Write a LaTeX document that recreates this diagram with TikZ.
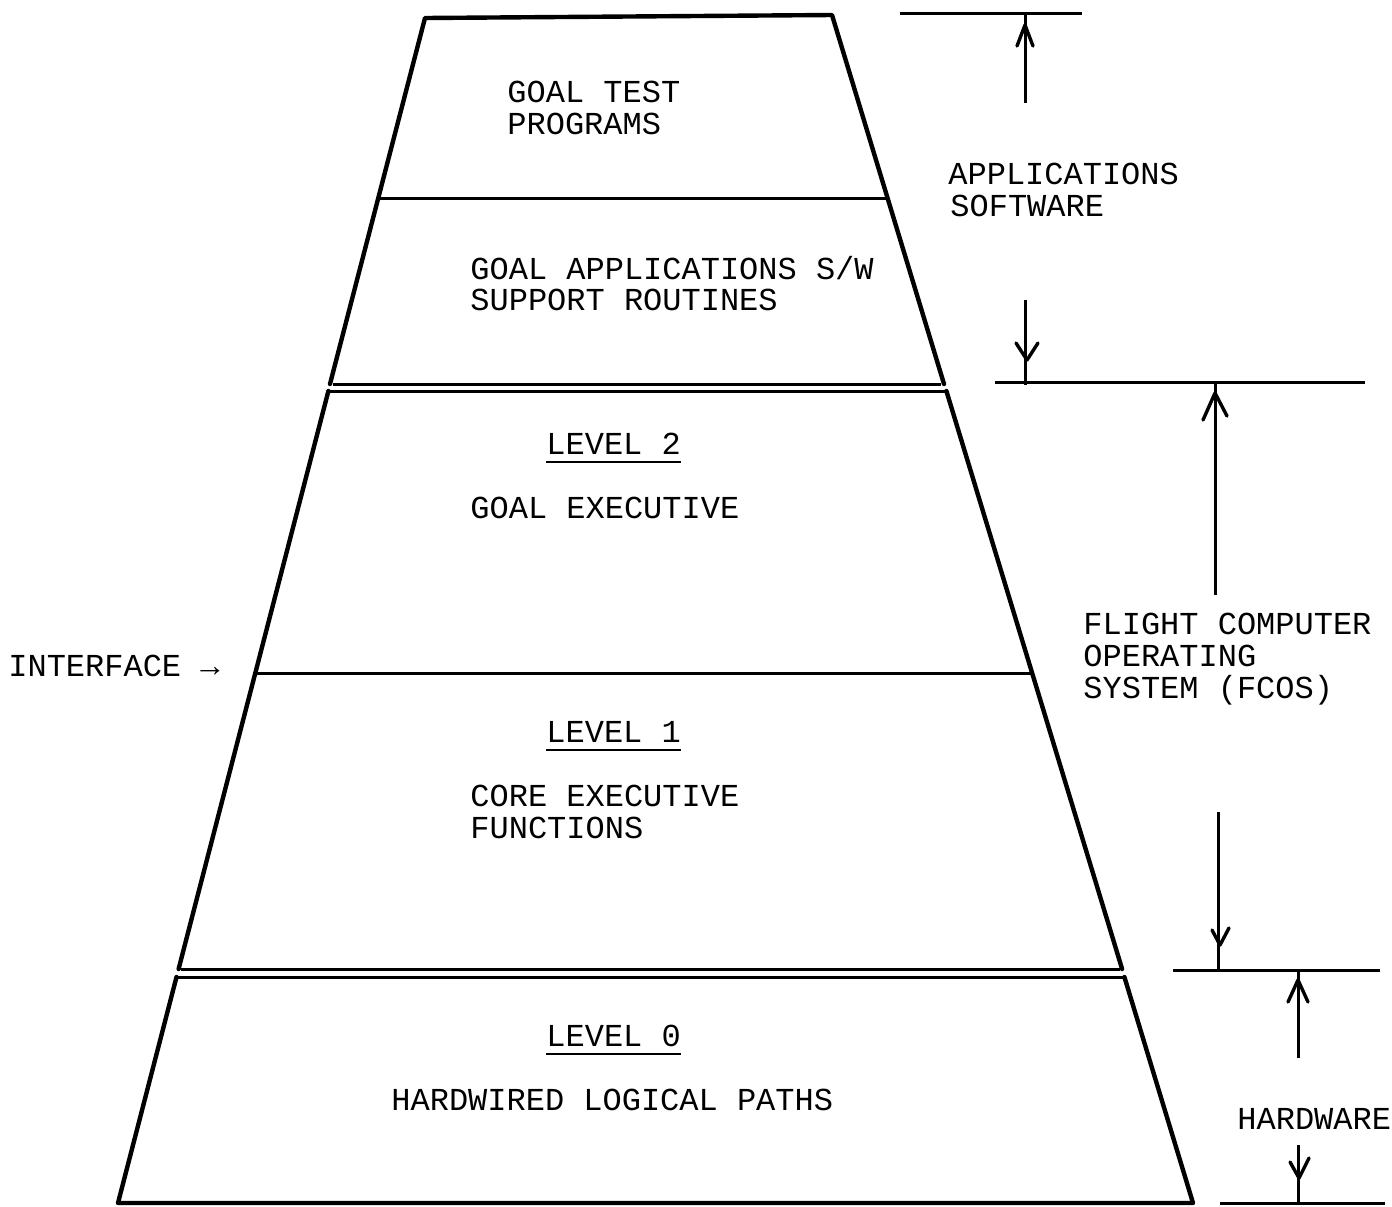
\documentclass[tikz,border=0pt]{standalone}
\usepackage{fontspec}
\setmonofont{Liberation Mono}
\begin{document}
\begin{tikzpicture}[x=0.5pt,y=-0.5pt,
  lbl/.style={font=\ttfamily\fontsize{16}{19}\selectfont, anchor=base west, inner sep=0pt},
  edge/.style={line width=2.2pt, line cap=round, line join=round},
  div/.style={line width=1.5pt},
  dim/.style={line width=1.5pt},
  head/.style={line width=1.7pt, line cap=round, line join=round},
  uline/.style={line width=1.2pt}]
\useasboundingbox (0,0) rectangle (1392,1206);
% trapezoid pieces
\draw[edge] (330,384) -- (425,18) -- (832,15) -- (944,384);
\draw[edge] (328.4,391) -- (178.6,969);
\draw[edge] (946.4,391) -- (1122.1,969);
\draw[edge] (176.5,977) -- (118,1203) -- (1193,1203) -- (1124.4,977);
% dividers
\draw[div] (378.7,198) -- (887.6,198);
\draw[div] (333,384) -- (941,384);
\draw[div] (328.4,391) -- (946.4,391);
\draw[div] (255.3,673) -- (1032,673);
\draw[div] (181,969) -- (1120,969);
\draw[div] (176.5,977) -- (1124.4,977);
% dimension lines
\coordinate (a1) at (1025,103); \coordinate (a2) at (1025,13);
\draw[dim] (900,13) -- (1082,13);
\draw[dim] (a1) -- (a2);
\draw[head] (1017,46) -- (1025,25) -- (1033,46);
\coordinate (b1) at (1025,300); \coordinate (b2) at (1025,385);
\draw[dim] (b1) -- (b2);
\draw[head] (1016,343) -- (1027,360) -- (1038,343);
\draw[dim] (995,382) -- (1365,382);
\coordinate (c1) at (1215,595); \coordinate (c2) at (1215,382);
\draw[dim] (c1) -- (c2);
\draw[head] (1203,420) -- (1215,393) -- (1227,416);
\coordinate (d1) at (1218,812); \coordinate (d2) at (1218,970);
\draw[dim] (d1) -- (d2);
\draw[head] (1212,930) -- (1220,945) -- (1229,928);
\draw[dim] (1173,970) -- (1380,970);
\coordinate (e1) at (1298,1058); \coordinate (e2) at (1298,970);
\draw[dim] (e1) -- (e2);
\draw[head] (1288,1002) -- (1298,980) -- (1308,1002);
\coordinate (f1) at (1298,1145); \coordinate (f2) at (1298,1203);
\draw[dim] (f1) -- (f2);
\draw[head] (1290,1162) -- (1299,1178) -- (1309,1158);
\draw[dim] (1220,1203) -- (1385,1203);
% texts
\node[lbl] (t1) at (507,102) {GOAL TEST};
\node[lbl] (t2) at (507,134) {PROGRAMS};
\node[lbl] (t3) at (948,184) {APPLICATIONS};
\node[lbl] (t4) at (950,216) {SOFTWARE};
\node[lbl] (t5) at (470,279) {GOAL APPLICATIONS S/W};
\node[lbl] (t6) at (470,310) {SUPPORT ROUTINES};
\node[lbl] (l2) at (546,454) {LEVEL 2};
\draw[uline] ([yshift=-4pt]l2.base west) -- ([yshift=-4pt]l2.base east);
\node[lbl] (t7) at (470,518) {GOAL EXECUTIVE};
\node[lbl] (t8) at (1083,634) {FLIGHT COMPUTER};
\node[lbl] (t9) at (1083,666) {OPERATING};
\node[lbl] (t10) at (1083,698) {SYSTEM (FCOS)};
\node[lbl] (t11) at (8,676) {INTERFACE →};
\node[lbl] (l1) at (546,742) {LEVEL 1};
\draw[uline] ([yshift=-4pt]l1.base west) -- ([yshift=-4pt]l1.base east);
\node[lbl] (t12) at (470,806) {CORE EXECUTIVE};
\node[lbl] (t13) at (470,838) {FUNCTIONS};
\node[lbl] (l0) at (546,1046) {LEVEL 0};
\draw[uline] ([yshift=-4pt]l0.base west) -- ([yshift=-4pt]l0.base east);
\node[lbl] (t14) at (391,1110) {HARDWIRED LOGICAL PATHS};
\node[lbl] (t15) at (1237,1129) {HARDWARE};
\end{tikzpicture}
\end{document}
